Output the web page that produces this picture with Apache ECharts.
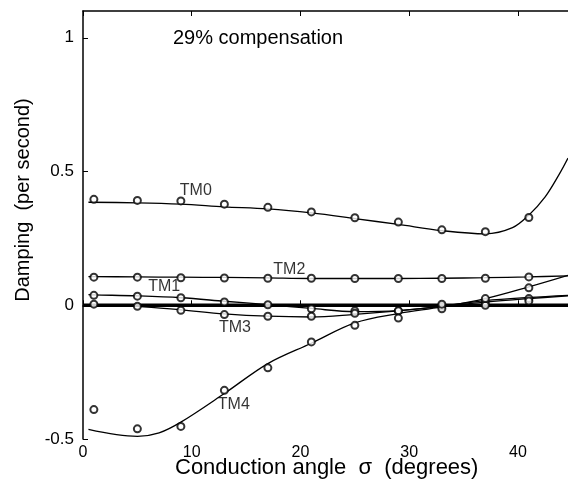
<!DOCTYPE html>
<html>
<head>
<meta charset="utf-8">
<script src="https://cdn.jsdelivr.net/npm/echarts@6/dist/echarts.min.js"></script>
<style>
html,body{margin:0;padding:0;background:#fff;}
#chart{width:568px;height:483px;}
</style>
</head>
<body>
<div id="chart"></div>
<script>
// ---- data ----
const markerX = [1, 5, 9, 13, 17, 21, 25, 29, 33, 37, 41];
const tm0Markers = [0.396, 0.392, 0.390, 0.378, 0.366, 0.349, 0.327, 0.311, 0.282, 0.275, 0.328];
const tm1Markers = [0.037, 0.034, 0.028, 0.012, 0.002, -0.013, -0.021, -0.021, -0.004, 0.012, 0.025];
const tm2Markers = [0.105, 0.105, 0.103, 0.102, 0.101, 0.101, 0.100, 0.100, 0.100, 0.101, 0.106];
const tm3Markers = [0.004, -0.004, -0.019, -0.035, -0.041, -0.041, -0.030, -0.021, -0.013, 0.000, 0.016];
const tm4Markers = [-0.390, -0.462, -0.453, -0.318, -0.234, -0.137, -0.075, -0.048, 0.004, 0.025, 0.065];

const curveX = [0.5, 1, 5, 9, 13, 17, 21, 25, 29, 33, 37, 41, 44.6];
const tm1Curve = [0.040, 0.039, 0.035, 0.028, 0.015, 0.002, -0.012, -0.024, -0.020, -0.003, 0.017, 0.029, 0.037];
const tm2Curve = [0.107, 0.107, 0.106, 0.105, 0.104, 0.102, 0.100, 0.100, 0.100, 0.101, 0.103, 0.106, 0.110];
const tm3Curve = [0.002, 0.001, -0.004, -0.017, -0.032, -0.041, -0.044, -0.034, -0.021, -0.005, 0.012, 0.025, 0.035];

const tm0CurveX = [0.5, 5, 9, 13, 17, 21, 25, 29, 33, 37, 39.5, 41, 42.5, 43.8, 44.6];
const tm0Curve = [0.385, 0.383, 0.378, 0.368, 0.360, 0.345, 0.324, 0.302, 0.279, 0.267, 0.290, 0.337, 0.405, 0.490, 0.550];

const tm4CurveX = [0.5, 5, 7, 9, 13, 17, 21, 25, 29, 33, 37, 41, 44.6];
const tm4Curve = [-0.464, -0.490, -0.477, -0.437, -0.330, -0.218, -0.142, -0.066, -0.031, -0.006, 0.025, 0.069, 0.112];

const zeroLineX = [0, 44.6];
const zeroLineY = [0, 0];

const curveNames = ['TM0', 'TM1', 'TM2', 'TM3', 'TM4'];
const curveNameX = [8.9, 6.0, 17.5, 12.5, 12.4];
const curveNameY = [0.427, 0.068, 0.134, -0.085, -0.37];

const xTicks = [0, 10, 20, 30, 40];
const yTicks = [-0.5, 0, 0.5, 1];

// ---- helpers ----
const zip = (xs, ys) => xs.map((x, i) => [x, ys[i]]);
const FONT = '"Liberation Sans", Arial, Helvetica, sans-serif';

function curve(xs, ys) {
  return {
    type: 'line', data: zip(xs, ys), showSymbol: false, smooth: 0.35,
    lineStyle: { color: '#000', width: 1.3 }, silent: true, z: 3
  };
}
function markers(ys) {
  return {
    type: 'scatter', data: zip(markerX, ys), symbol: 'emptyCircle', symbolSize: 7,
    itemStyle: { color: '#000', borderColor: '#000', borderWidth: 1.2 }, z: 4, silent: true
  };
}

const chart = echarts.init(document.getElementById('chart'), null, { renderer: 'canvas' });
const axisCommon = {
  type: 'value', min: 0, max: 44.6, interval: 10,
  axisLine: { show: true, lineStyle: { color: '#000', width: 1.5 } },
  axisTick: { show: true, inside: true, length: 5, lineStyle: { color: '#000', width: 1 } },
  splitLine: { show: false }
};

chart.setOption({
  animation: false,
  backgroundColor: '#fff',
  title: {
    text: '29% compensation', left: 173, top: 28, padding: 0,
    textStyle: { fontFamily: FONT, fontSize: 20, fontWeight: 'normal', color: '#000' }
  },
  grid: { left: 83, right: 0, top: 11, bottom: 44, containLabel: false },
  xAxis: [
    Object.assign({}, axisCommon, {
      position: 'bottom',
      axisLabel: {
        show: true, margin: 6, fontSize: 16, fontFamily: FONT, color: '#000', showMaxLabel: false,
        formatter: v => (xTicks.indexOf(v) >= 0 ? String(v) : '')
      }
    }),
    Object.assign({}, axisCommon, { position: 'top', axisLabel: { show: false } })
  ],
  yAxis: {
    type: 'value', min: -0.5, max: 1.1, interval: 0.5,
    axisLine: { show: true, lineStyle: { color: '#000', width: 1.5 } },
    axisTick: { show: true, inside: true, length: 5, lineStyle: { color: '#000', width: 1 } },
    splitLine: { show: false },
    axisLabel: {
      margin: 9, fontSize: 17, fontFamily: FONT, color: '#000', showMaxLabel: false,
      formatter: v => (yTicks.indexOf(Math.round(v * 10) / 10) >= 0 ? String(Math.round(v * 10) / 10) : '')
    }
  },
  graphic: [
    {
      type: 'text', left: 175, top: 457,
      style: { text: 'Conduction angle  σ  (degrees)', font: '22px ' + FONT, fill: '#000' }
    },
    {
      type: 'text', x: 23, y: 200, rotation: Math.PI / 2,
      style: { text: 'Damping  (per second)', font: '20px ' + FONT, fill: '#000', textAlign: 'center', textVerticalAlign: 'middle' }
    }
  ],
  series: [
    {
      type: 'line', data: zip(zeroLineX, zeroLineY), showSymbol: false,
      lineStyle: { color: '#000', width: 3.5 }, z: 2, silent: true
    },
    curve(tm0CurveX, tm0Curve),
    curve(curveX, tm1Curve),
    curve(curveX, tm2Curve),
    curve(curveX, tm3Curve),
    curve(tm4CurveX, tm4Curve),
    markers(tm0Markers),
    markers(tm1Markers),
    markers(tm2Markers),
    markers(tm3Markers),
    markers(tm4Markers),
    {
      type: 'scatter', symbolSize: 0, silent: true, z: 5,
      data: curveNames.map((n, i) => ({ name: n, value: [curveNameX[i], curveNameY[i]] })),
      label: {
        show: true, position: 'right', distance: 0, formatter: '{b}',
        fontFamily: FONT, fontSize: 16, color: '#000'
      }
    }
  ]
});
</script>
</body>
</html>
